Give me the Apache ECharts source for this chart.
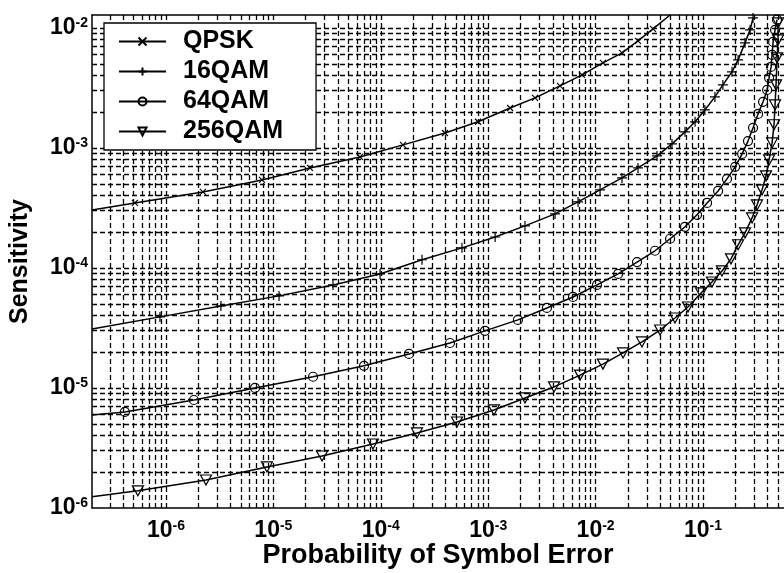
<!DOCTYPE html>
<html>
<head>
<meta charset="utf-8">
<script src="https://cdn.jsdelivr.net/npm/echarts@6/dist/echarts.min.js"></script>
<style>html,body{margin:0;padding:0;background:#fff;}#c{width:784px;height:573px;}</style>
</head>
<body>
<div id="c"></div>
<script>
// Axis extents
const X_MIN = 2.05e-7, X_MAX = 0.567;
const Y_MIN = 1e-6, Y_MAX = 1.28e-2;
const xTickValues = [1e-6, 1e-5, 1e-4, 1e-3, 1e-2, 1e-1];
const yTickValues = [1e-6, 1e-5, 1e-4, 1e-3, 1e-2];
const seriesNames = ['QPSK', '16QAM', '64QAM', '256QAM'];

const qpskX = [2.05e-7, 5.14e-7, 2.21e-6, 7.84e-6, 2.19e-5, 6.40e-5, 1.61e-4, 3.96e-4, 8.04e-4, 1.60e-3, 2.73e-3, 4.66e-3, 7.47e-3, 1.17e-2, 1.76e-2, 2.48e-2, 3.42e-2, 4.93e-2];
const qpskY = [3.04e-4, 3.48e-4, 4.30e-4, 5.41e-4, 6.81e-4, 8.41e-4, 1.06e-3, 1.33e-3, 1.65e-3, 2.15e-3, 2.61e-3, 3.29e-3, 4.06e-3, 5.11e-3, 6.19e-3, 7.79e-3, 9.81e-3, 1.28e-2];

const qam16X = [2.05e-7, 8.80e-7, 3.25e-6, 1.13e-5, 3.59e-5, 9.84e-5, 2.42e-4, 5.70e-4, 1.16e-3, 2.20e-3, 4.19e-3, 6.86e-3, 1.10e-2, 1.76e-2, 2.48e-2, 3.73e-2, 5.14e-2, 6.79e-2, 8.43e-2, 1.04e-1, 1.29e-1, 1.53e-1, 1.86e-1, 2.12e-1, 2.46e-1, 2.74e-1, 2.92e-1];
const qam16Y = [3.10e-5, 3.91e-5, 4.82e-5, 5.85e-5, 7.22e-5, 8.91e-5, 1.17e-4, 1.47e-4, 1.81e-4, 2.24e-4, 2.82e-4, 3.55e-4, 4.47e-4, 5.62e-4, 6.81e-4, 8.58e-4, 1.08e-3, 1.36e-3, 1.65e-3, 2.07e-3, 2.66e-3, 3.35e-3, 4.30e-3, 5.41e-3, 7.50e-3, 9.62e-3, 1.21e-2];

const qam64X = [2.05e-7, 4.15e-7, 1.82e-6, 6.75e-6, 2.34e-5, 6.98e-5, 1.83e-4, 4.41e-4, 9.33e-4, 1.89e-3, 3.52e-3, 6.16e-3, 1.03e-2, 1.62e-2, 2.43e-2, 3.57e-2, 4.93e-2, 6.79e-2, 8.79e-2, 1.09e-1, 1.38e-1, 1.67e-1, 1.99e-1, 2.31e-1, 2.62e-1, 2.92e-1, 3.25e-1, 3.62e-1, 3.95e-1, 4.12e-1, 4.30e-1, 4.39e-1, 4.49e-1, 4.68e-1, 4.88e-1];
const qam64Y = [5.96e-6, 6.31e-6, 7.94e-6, 1.00e-5, 1.24e-5, 1.53e-5, 1.92e-5, 2.37e-5, 2.99e-5, 3.69e-5, 4.64e-5, 5.73e-5, 7.22e-5, 8.91e-5, 1.12e-4, 1.39e-4, 1.75e-4, 2.20e-4, 2.77e-4, 3.48e-4, 4.38e-4, 5.52e-4, 6.95e-4, 8.91e-4, 1.14e-3, 1.47e-3, 1.92e-3, 2.42e-3, 3.04e-3, 3.83e-3, 4.73e-3, 5.96e-3, 7.64e-3, 9.62e-3, 1.17e-2];

const qam256X = [2.05e-7, 5.48e-7, 2.36e-6, 8.71e-6, 2.84e-5, 8.46e-5, 2.17e-4, 5.12e-4, 1.13e-3, 2.20e-3, 4.10e-3, 7.16e-3, 1.17e-2, 1.80e-2, 2.70e-2, 3.98e-2, 5.48e-2, 7.24e-2, 9.58e-2, 1.21e-1, 1.50e-1, 1.82e-1, 2.12e-1, 2.46e-1, 2.86e-1, 3.18e-1, 3.54e-1, 3.86e-1, 4.12e-1, 4.39e-1, 4.58e-1, 4.68e-1, 4.78e-1, 4.89e-1, 4.99e-1, 4.99e-1];
const qam256Y = [1.24e-6, 1.39e-6, 1.71e-6, 2.20e-6, 2.71e-6, 3.41e-6, 4.22e-6, 5.21e-6, 6.56e-6, 8.26e-6, 1.02e-5, 1.28e-5, 1.58e-5, 1.96e-5, 2.42e-5, 3.04e-5, 3.83e-5, 4.73e-5, 6.19e-5, 7.64e-5, 9.44e-5, 1.19e-4, 1.56e-4, 1.96e-4, 2.61e-4, 3.35e-4, 4.47e-4, 5.85e-4, 7.94e-4, 1.10e-3, 1.56e-3, 2.28e-3, 3.35e-3, 5.62e-3, 7.94e-3, 1.10e-2];

const FONT = 'Liberation Sans, Arial, Helvetica, sans-serif';

function pts(xs, ys) {
  return xs.map((x, i) => {
    const onEdge = x <= X_MIN || ys[i] >= Y_MAX;
    return onEdge ? { value: [x, ys[i]], symbol: 'none' } : [x, ys[i]];
  });
}

// log grid lines at k*10^n (axis structure, not data)
const gridSegs = [];
for (let n = -8; n <= 0; n++) {
  for (let k = 1; k <= 9; k++) {
    const v = k * Math.pow(10, n);
    if (v > X_MIN * 1.0001 && v < X_MAX) gridSegs.push({ coords: [[v, Y_MIN], [v, Y_MAX]] });
    if (v > Y_MIN * 1.0001 && v < Y_MAX) gridSegs.push({ coords: [[X_MIN, v], [X_MAX, v]] });
  }
}

function supFmt(v) {
  return '{b|10}{s|' + Math.round(Math.log10(v)) + '}';
}

const markers = {
  'QPSK': { symbol: 'path://M0,0L10,10M10,0L0,10', size: 6 },
  '16QAM': { symbol: 'path://M5,0L5,10M0,5L10,5', size: 10 },
  '64QAM': { symbol: 'circle', size: 9 },
  '256QAM': { symbol: 'path://M0,0L10,0L5,9Z', size: [11, 10] }
};
const seriesData = {
  'QPSK': pts(qpskX, qpskY),
  '16QAM': pts(qam16X, qam16Y),
  '64QAM': pts(qam64X, qam64Y),
  '256QAM': pts(qam256X, qam256Y)
};

const series = [{
  type: 'lines', name: 'grid', coordinateSystem: 'cartesian2d', z: 1, silent: true,
  polyline: false, symbol: ['none', 'none'],
  lineStyle: { color: '#000', width: 1.3, type: [5, 3], opacity: 1 },
  emphasis: { disabled: true },
  data: gridSegs
}];
seriesNames.forEach(name => {
  series.push({
    type: 'line', name: name, data: seriesData[name], z: 3,
    symbol: markers[name].symbol, symbolSize: markers[name].size,
    showAllSymbol: true, clip: true, smooth: false,
    lineStyle: { color: '#000', width: 1.5 },
    itemStyle: { color: 'transparent', borderColor: '#000', borderWidth: 1.2 },
    emphasis: { disabled: true }
  });
});

const chart = echarts.init(document.getElementById('c'), null, { renderer: 'canvas' });
chart.setOption({
  animation: false,
  backgroundColor: '#fff',
  grid: { left: 92, right: 0, top: 15, bottom: 65, containLabel: false, outerBoundsMode: 'none' },
  legend: {
    data: seriesNames, orient: 'vertical', left: 104, top: 23,
    padding: [6, 33, 6, 14], itemGap: 5, itemWidth: 47, itemHeight: 10,
    backgroundColor: '#fff', borderColor: '#000', borderWidth: 1.3, borderRadius: 0,
    selectedMode: false,
    textStyle: { fontSize: 25, fontWeight: 'bold', fontFamily: FONT, color: '#000', padding: [0, 0, 0, 12] }
  },
  xAxis: [{
    type: 'log', min: X_MIN, max: X_MAX, position: 'bottom',
    name: 'Probability of Symbol Error', nameLocation: 'middle', nameGap: 34,
    nameMoveOverlap: false,
    nameTextStyle: { fontSize: 27, fontWeight: 'bold', fontFamily: FONT, color: '#000' },
    axisLine: { show: true, lineStyle: { color: '#000', width: 1.5 } },
    axisTick: { show: false },
    splitLine: { show: false }, minorSplitLine: { show: false },
    axisLabel: {
      customValues: xTickValues, margin: 11, formatter: supFmt, color: '#000',
      rich: {
        b: { fontSize: 23, fontWeight: 'bold', fontFamily: FONT, color: '#000', lineHeight: 24 },
        s: { fontSize: 14, fontWeight: 'bold', fontFamily: FONT, color: '#000', verticalAlign: 'top', lineHeight: 14 }
      }
    }
  }, {
    type: 'log', min: X_MIN, max: X_MAX, position: 'top',
    axisLine: { show: true, lineStyle: { color: '#000', width: 1.5 } },
    axisTick: { show: false }, axisLabel: { show: false }, splitLine: { show: false }
  }],
  yAxis: {
    type: 'log', min: Y_MIN, max: Y_MAX,
    name: 'Sensitivity', nameLocation: 'middle', nameGap: 59,
    nameMoveOverlap: false,
    nameTextStyle: { fontSize: 25, fontWeight: 'bold', fontFamily: FONT, color: '#000' },
    axisLine: { show: true, lineStyle: { color: '#000', width: 1.5 } },
    axisTick: { show: false },
    splitLine: { show: false }, minorSplitLine: { show: false },
    axisLabel: {
      customValues: yTickValues, margin: 4, formatter: supFmt, color: '#000',
      rich: {
        b: { fontSize: 23, fontWeight: 'bold', fontFamily: FONT, color: '#000', lineHeight: 24 },
        s: { fontSize: 14, fontWeight: 'bold', fontFamily: FONT, color: '#000', verticalAlign: 'top', lineHeight: 14 }
      }
    }
  },
  series: series
});
</script>
</body>
</html>
